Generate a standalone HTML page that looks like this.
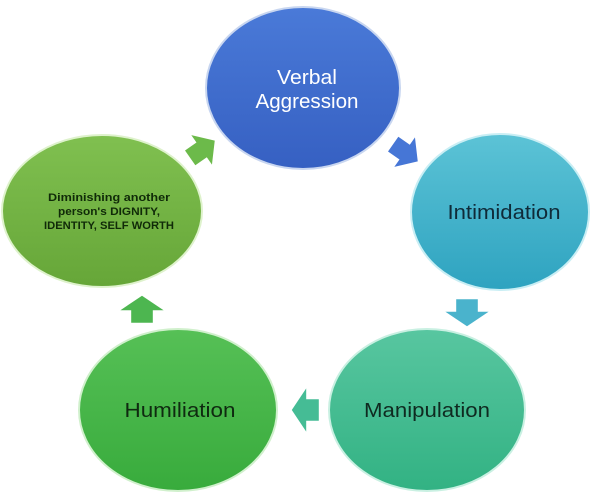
<!DOCTYPE html>
<html><head><style>body{margin:0;background:#fff}svg{display:block}</style></head><body>
<svg width="600" height="500" xmlns="http://www.w3.org/2000/svg" font-family="'Liberation Sans',sans-serif">
<defs>
<linearGradient id="gb" x1="0" y1="0" x2="0" y2="1"><stop offset="0" stop-color="#4a7ad8"/><stop offset="1" stop-color="#3660c2"/></linearGradient>
<linearGradient id="gc" x1="0" y1="0" x2="0" y2="1"><stop offset="0" stop-color="#5cc3d6"/><stop offset="1" stop-color="#2ea3c0"/></linearGradient>
<linearGradient id="gt" x1="0" y1="0" x2="0" y2="1"><stop offset="0" stop-color="#58c6a0"/><stop offset="1" stop-color="#32b283"/></linearGradient>
<linearGradient id="gg" x1="0" y1="0" x2="0" y2="1"><stop offset="0" stop-color="#56c056"/><stop offset="1" stop-color="#38ab3c"/></linearGradient>
<linearGradient id="gl" x1="0" y1="0" x2="0" y2="1"><stop offset="0" stop-color="#80c050"/><stop offset="1" stop-color="#66a638"/></linearGradient>
<path id="arr" d="M-12,-9 L2,-9 L2,-18 L18,0 L2,18 L2,9 L-12,9 Z"/>
</defs>
<ellipse cx="303" cy="88" rx="97" ry="81" fill="url(#gb)" stroke="#c8d6f0" stroke-width="2"/>
<ellipse cx="500" cy="212" rx="89" ry="78" fill="url(#gc)" stroke="#c9eef4" stroke-width="2"/>
<ellipse cx="427" cy="410" rx="98" ry="81" fill="url(#gt)" stroke="#c9f0e2" stroke-width="2"/>
<ellipse cx="178" cy="410" rx="99" ry="81" fill="url(#gg)" stroke="#d0f0cc" stroke-width="2"/>
<ellipse cx="102" cy="211" rx="100" ry="76" fill="url(#gl)" stroke="#def2cc" stroke-width="2"/>
<use href="#arr" transform="translate(200,151) rotate(-35)" fill="#6cba4a"/>
<use href="#arr" transform="translate(403,151) rotate(35)" fill="#4676d6"/>
<use href="#arr" transform="translate(467,310) rotate(90) scale(0.9,1.2)" fill="#4ab3cc"/>
<use href="#arr" transform="translate(308,410) rotate(180) scale(0.9,1.2)" fill="#45bc95"/>
<use href="#arr" transform="translate(142,312) rotate(-90) scale(0.9,1.2)" fill="#4db650"/>
<g text-anchor="middle">
<text x="307" y="84" font-size="20" fill="#fff" textLength="60" lengthAdjust="spacingAndGlyphs">Verbal</text>
<text x="307" y="108" font-size="20" fill="#fff" textLength="103" lengthAdjust="spacingAndGlyphs">Aggression</text>
<text x="504" y="219" font-size="20" fill="#0f2a38" textLength="113" lengthAdjust="spacingAndGlyphs">Intimidation</text>
<text x="427" y="417" font-size="20" fill="#0f2a20" textLength="126" lengthAdjust="spacingAndGlyphs">Manipulation</text>
<text x="180" y="417" font-size="20" fill="#0f2a10" textLength="111" lengthAdjust="spacingAndGlyphs">Humiliation</text>
<text x="109" y="201" font-size="11" font-weight="bold" fill="#102a08" textLength="122" lengthAdjust="spacingAndGlyphs">Diminishing another</text>
<text x="109" y="215" font-size="11" font-weight="bold" fill="#102a08" textLength="102" lengthAdjust="spacingAndGlyphs">person's DIGNITY,</text>
<text x="109" y="229" font-size="11" font-weight="bold" fill="#102a08" textLength="130" lengthAdjust="spacingAndGlyphs">IDENTITY, SELF WORTH</text>
</g>
</svg>
</body></html>
